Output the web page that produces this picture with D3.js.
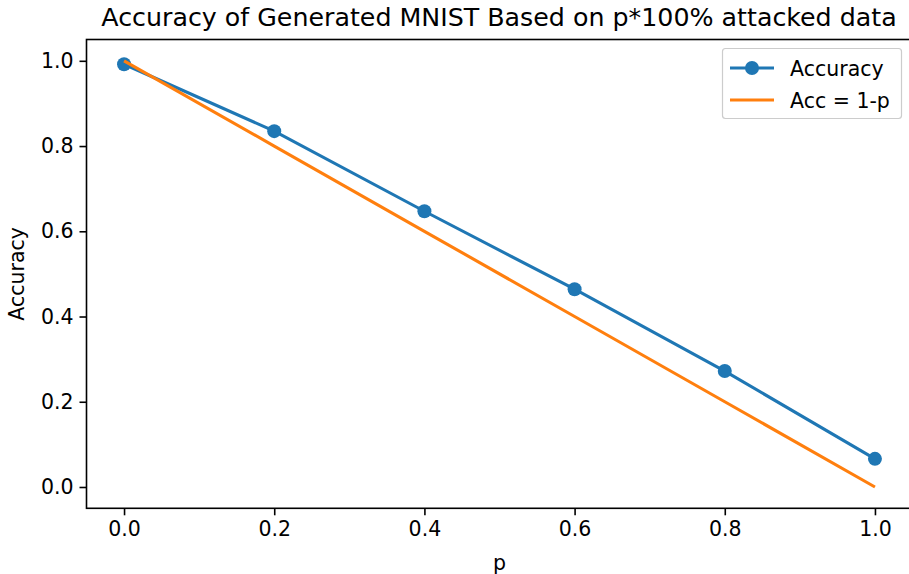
<!DOCTYPE html>
<html>
<head>
<meta charset="utf-8">
<script src="https://cdn.jsdelivr.net/npm/d3@7"></script>
<style>
  body { margin: 0; background: #fff; }
  text { font-family: "DejaVu Sans", sans-serif; fill: #000; }
</style>
</head>
<body>
<div id="Canvas"></div>
<script>
// 資料
let P_Values = [0.0, 0.2, 0.4, 0.6, 0.8, 1.0]
let Accuracy_Values = [0.992, 0.835, 0.647, 0.464, 0.272, 0.066]
let Baseline_Values = [1.0, 0.8, 0.6, 0.4, 0.2, 0.0]
let X_Ticks = [0.0, 0.2, 0.4, 0.6, 0.8, 1.0]
let Y_Ticks = [0.0, 0.2, 0.4, 0.6, 0.8, 1.0]
let Legend_Names = ["Accuracy", "Acc = 1-p"]
let Colors = ["#1f77b4", "#ff7f0e"]

const W = 909, H = 574
const mLeft = 86.5, mRight = 912.5, mTop = 39.5, mBottom = 508.3

let svg = d3.select("#Canvas")
    .append("svg")
    .attr("width", W)
    .attr("height", H)

let xScale = d3.scaleLinear()
    .domain([-0.05, 1.05])
    .range([mLeft, mRight])
let yScale = d3.scaleLinear()
    .domain([-0.05, 1.05])
    .range([mBottom, mTop])

//線
let line = d3.line()
    .x((d, i) => xScale(P_Values[i]))
    .y(d => yScale(d))

svg.append("path")
    .datum(Accuracy_Values)
    .attr("d", line)
    .attr("fill", "none")
    .attr("stroke", Colors[0])
    .attr("stroke-width", 3.1)

svg.selectAll("circle.pt")
    .data(Accuracy_Values)
    .enter()
    .append("circle")
    .attr("class", "pt")
    .attr("cx", (d, i) => xScale(P_Values[i]))
    .attr("cy", d => yScale(d))
    .attr("r", 7)
    .attr("fill", Colors[0])

svg.append("path")
    .datum(Baseline_Values)
    .attr("d", line)
    .attr("fill", "none")
    .attr("stroke", Colors[1])
    .attr("stroke-width", 3.1)

//軸
svg.append("g")
    .attr("transform", `translate(0,${mBottom})`)
    .call(d3.axisBottom(xScale).tickValues(X_Ticks).tickFormat(d3.format(".1f")).tickSizeOuter(0).tickSize(7).tickPadding(6))
svg.append("g")
    .attr("transform", `translate(${mLeft},0)`)
    .call(d3.axisLeft(yScale).tickValues(Y_Ticks).tickFormat(d3.format(".1f")).tickSizeOuter(0).tickSize(7).tickPadding(6))

svg.selectAll(".domain").remove()
svg.selectAll(".tick line").attr("stroke", "#000").attr("stroke-width", 1.6)
svg.selectAll(".tick text").style("font-size", "20.5px").style("font-family", "DejaVu Sans")

//外框
svg.append("rect")
    .attr("x", mLeft)
    .attr("y", mTop)
    .attr("width", mRight - mLeft)
    .attr("height", mBottom - mTop)
    .attr("fill", "none")
    .attr("stroke", "#000")
    .attr("stroke-width", 1.6)

//標題
svg.append("text")
    .attr("x", 499)
    .attr("y", 26)
    .attr("text-anchor", "middle")
    .style("font-size", "25.3px")
    .text("Accuracy of Generated MNIST Based on p*100% attacked data")

svg.append("text")
    .attr("x", xScale(0.5))
    .attr("y", 570)
    .attr("text-anchor", "middle")
    .style("font-size", "20.5px")
    .text("p")

svg.append("text")
    .attr("transform", `translate(24,${yScale(0.5)}) rotate(-90)`)
    .attr("text-anchor", "middle")
    .style("font-size", "20.5px")
    .text("Accuracy")

//圖例
svg.append("rect")
    .attr("x", 722.5)
    .attr("y", 48.5)
    .attr("width", 179)
    .attr("height", 70)
    .attr("rx", 3)
    .attr("fill", "#fff")
    .attr("fill-opacity", 0.8)
    .attr("stroke", "#ccc")
    .attr("stroke-width", 1.2)

Legend_Names.forEach((name, i) => {
    let y = 68 + i * 32
    svg.append("line")
        .attr("x1", 730).attr("x2", 774)
        .attr("y1", y).attr("y2", y)
        .attr("stroke", Colors[i])
        .attr("stroke-width", 3.1)
    if (i === 0) {
        svg.append("circle")
            .attr("cx", 752).attr("cy", y).attr("r", 7)
            .attr("fill", Colors[i])
    }
    svg.append("text")
        .attr("x", 790)
        .attr("y", y + 7.5)
        .style("font-size", "20.5px")
        .text(name)
})
</script>
</body>
</html>
